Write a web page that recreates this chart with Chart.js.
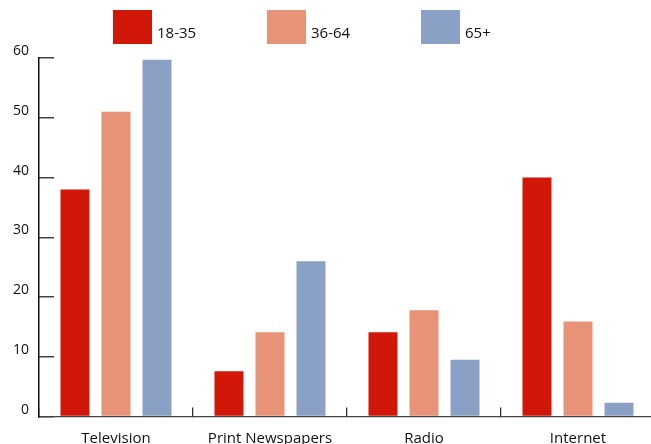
<!DOCTYPE html>
<html>
<head>
<meta charset="utf-8">
<script src="https://cdn.jsdelivr.net/npm/chart.js@4"></script>
<style>
  html, body { margin: 0; padding: 0; background: #fff; overflow: hidden; }
  #wrap { position: relative; width: 655px; height: 450px; }
</style>
</head>
<body>
<div id="wrap"><canvas id="myChart"></canvas></div>
<script>
// data
const categories = ["Television", "Print Newspapers", "Radio", "Internet"];
const ageGroups = ["18-35", "36-64", "65+"];
const young = [38, 7.6, 14.1, 40];
const middle = [51, 14.1, 17.8, 15.9];
const senior = [59.7, 26, 9.5, 2.3];
const yTicks = [0, 10, 20, 30, 40, 50, 60];

const colors = ["#d11707", "#e79377", "#8aa0c5"];
const fontName = "'Open Sans', 'Noto Sans', sans-serif";

// legend drawn by hand so the boxes sit where the original has them
const boxLegend = {
  id: "boxLegend",
  afterDraw(chart) {
    const ctx = chart.ctx;
    ctx.save();
    ctx.font = "15px " + fontName;
    ctx.textBaseline = "alphabetic";
    ctx.textAlign = "left";
    chart.data.datasets.forEach((ds, i) => {
      let x = 113 + i * 154;
      ctx.fillStyle = ds.backgroundColor;
      ctx.fillRect(x, 10, 39, 34);
      ctx.fillStyle = "#111";
      ctx.fillText(ds.label, x + 44, 37.5);
    });
    ctx.restore();
  },
};

const ctx = document.getElementById("myChart").getContext("2d");

new Chart(ctx, {
  type: "bar",
  data: {
    labels: categories,
    datasets: [
      { label: ageGroups[0], data: young, backgroundColor: colors[0] },
      { label: ageGroups[1], data: middle, backgroundColor: colors[1] },
      { label: ageGroups[2], data: senior, backgroundColor: colors[2] },
    ],
  },
  options: {
    responsive: true,
    maintainAspectRatio: false,
    animation: false,
    devicePixelRatio: 1,
    layout: { padding: { top: 58, left: 0, right: 0, bottom: 0 } },
    datasets: {
      bar: { categoryPercentage: 123 / 154, barPercentage: 29 / 41 },
    },
    plugins: {
      legend: { display: false },
      tooltip: { enabled: false },
    },
    scales: {
      x: {
        grid: {
          offset: true,
          drawOnChartArea: false,
          tickLength: -9,
          color: "#333",
          lineWidth: 1.3,
        },
        border: { color: "#444", width: 1.3 },
        ticks: {
          color: "#111",
          padding: 22,
          font: { family: fontName, size: 15 },
        },
        afterFit(scale) {
          scale.height = 28;
        },
      },
      y: {
        min: 0,
        max: 60,
        afterBuildTicks(scale) {
          scale.ticks = yTicks.map((v) => ({ value: v }));
        },
        grid: {
          drawOnChartArea: false,
          tickLength: -15,
          color: "#444",
          lineWidth: 1.5,
        },
        border: { color: "#111", width: 1.5 },
        ticks: {
          color: "#111",
          padding: 25,
          labelOffset: -7,
          font: { family: fontName, size: 14 },
        },
        afterFit(scale) {
          scale.width = 39;
        },
      },
    },
  },
  plugins: [boxLegend],
});
</script>
</body>
</html>
